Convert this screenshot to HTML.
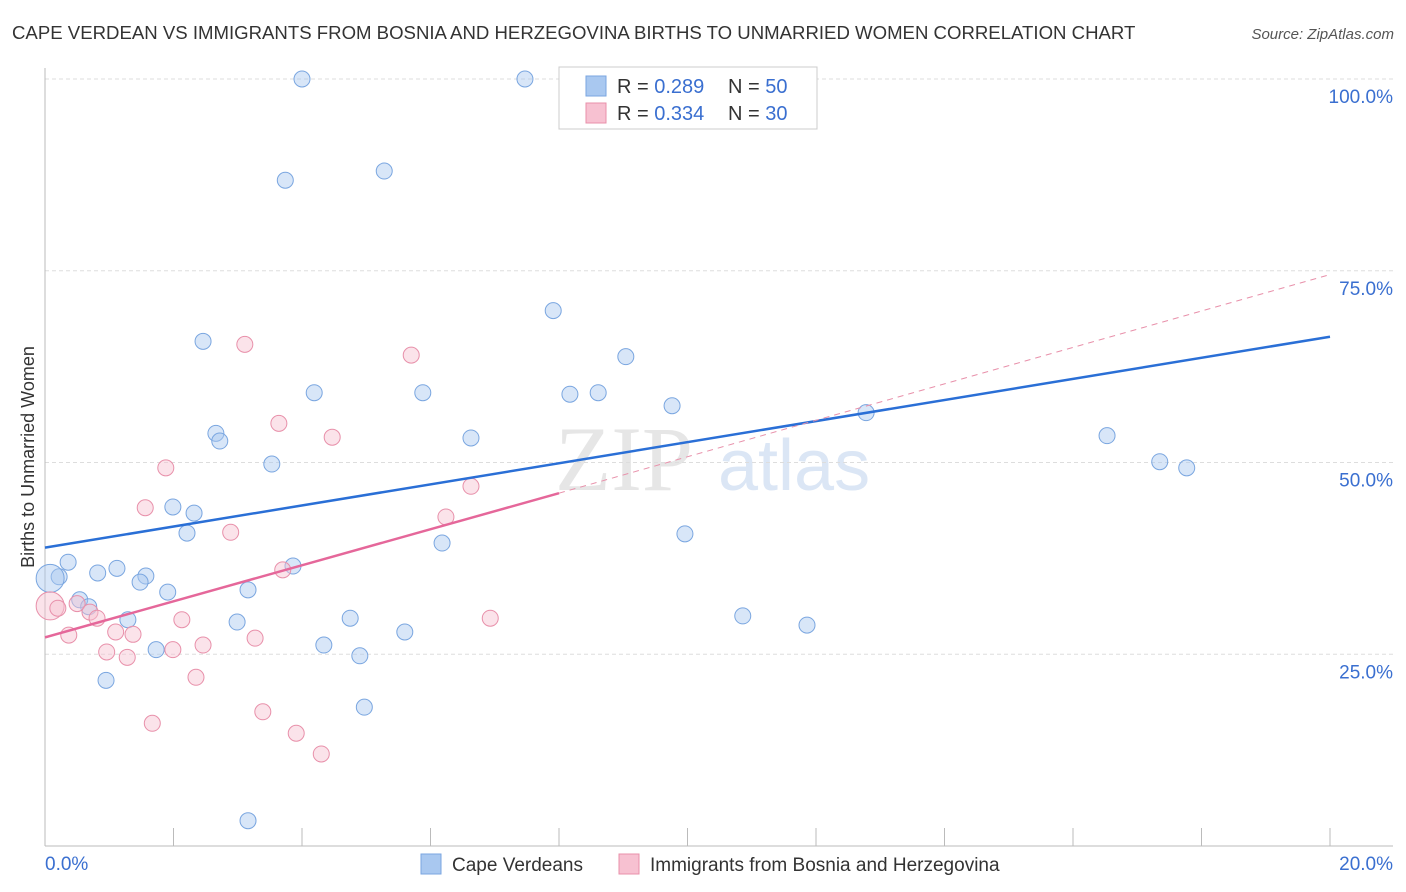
<!DOCTYPE html>
<html><head><meta charset="utf-8"><style>
body{margin:0;background:#fff;font-family:"Liberation Sans",sans-serif;}
svg{display:block}
</style></head><body>
<svg id="chart" width="1406" height="892">
<text x="12" y="39" font-size="18.6" fill="#333">CAPE VERDEAN VS IMMIGRANTS FROM BOSNIA AND HERZEGOVINA BIRTHS TO UNMARRIED WOMEN CORRELATION CHART</text>
<text x="1394" y="39" font-size="15" fill="#555" font-style="italic" text-anchor="end">Source: ZipAtlas.com</text>
<text transform="translate(34,457) rotate(-90)" font-size="18" fill="#333" text-anchor="middle">Births to Unmarried Women</text>
<g><text x="555" y="490" font-size="92" fill="#e6e6e6" font-family="Liberation Serif,serif">ZIP</text><text x="718" y="490" font-size="72" fill="#dbe6f5">atlas</text></g>
<g id="grid"></g><g id="marks"></g>
<g>
<rect x="559" y="67" width="258" height="62" fill="#fff" stroke="#ccc"/>
<rect x="586" y="76" width="20" height="20" fill="#a9c8f0" stroke="#7aa6e0"/>
<rect x="586" y="103" width="20" height="20" fill="#f7c1d1" stroke="#e890aa"/>
<text x="617" y="93" font-size="20" fill="#333">R = <tspan fill="#3a6fd0">0.289</tspan></text>
<text x="728" y="93" font-size="20" fill="#333">N = <tspan fill="#3a6fd0">50</tspan></text>
<text x="617" y="120" font-size="20" fill="#333">R = <tspan fill="#3a6fd0">0.334</tspan></text>
<text x="728" y="120" font-size="20" fill="#333">N = <tspan fill="#3a6fd0">30</tspan></text>
</g>
<g>
<rect x="421" y="854" width="20" height="20" fill="#a9c8f0" stroke="#7aa6e0"/>
<text x="452" y="871" font-size="19" fill="#333">Cape Verdeans</text>
<rect x="619" y="854" width="20" height="20" fill="#f7c1d1" stroke="#e890aa"/>
<text x="650" y="871" font-size="19" fill="#333">Immigrants from Bosnia and Herzegovina</text>
</g>
</svg>
<script>
const yTicks=[25,50,75,100];
const yTickLabels=["25.0%","50.0%","75.0%","100.0%"];
const xTicks=[0,2,4,6,8,10,12,14,16,18,20];
const blueX=[4.00,7.47,8.98,3.74,5.28,7.91,2.46,9.04,4.19,5.88,8.17,8.61,9.76,12.78,2.66,2.72,6.63,3.53,16.53,17.35,17.77,1.99,2.32,2.21,9.96,6.18,0.36,0.82,1.12,1.57,0.22,1.48,1.91,3.16,3.86,0.54,0.68,1.29,2.99,4.75,10.86,11.86,5.60,4.34,1.73,4.90,0.95,4.97,3.16,0.08];
const blueY=[100,100,100,86.8,88.0,69.8,65.8,63.8,59.1,59.1,58.9,59.1,57.4,56.5,53.8,52.8,53.2,49.8,53.5,50.1,49.3,44.2,43.4,40.8,40.7,39.5,37.0,35.6,36.2,35.2,35.1,34.4,33.1,33.4,36.5,32.1,31.2,29.5,29.2,29.7,30.0,28.8,27.9,26.2,25.6,24.8,21.6,18.1,3.3,34.9];
const pinkX=[3.11,5.70,3.64,4.47,1.88,6.63,1.56,6.24,2.89,3.70,0.08,0.20,0.50,0.70,0.81,2.13,6.93,0.37,1.10,1.37,3.27,2.46,1.99,0.96,1.28,2.35,3.39,1.67,3.91,4.30];
const pinkY=[65.4,64.0,55.1,53.3,49.3,46.9,44.1,42.9,40.9,36.0,31.3,31.0,31.6,30.5,29.7,29.5,29.7,27.5,27.9,27.6,27.1,26.2,25.6,25.3,24.6,22.0,17.5,16.0,14.7,12.0];
const blueTrend=[38.9,66.4];
const pinkTrend=[27.2,46.0,74.5];
const NS="http://www.w3.org/2000/svg";
const X=v=>45+v*1285/20, Y=v=>846-v*767/100;
function mk(t,a,p){const e=document.createElementNS(NS,t);for(const k in a)e.setAttribute(k,a[k]);p.appendChild(e);return e;}
const g=document.getElementById('grid'),m=document.getElementById('marks');
yTicks.forEach((t,i)=>{
 const l=mk('line',{x1:45,x2:1393,y1:Y(t),y2:Y(t),stroke:'#ddd','stroke-dasharray':'4,3'},g);
 
 
 const tx=mk('text',{x:1393,y:Y(t)+24,'font-size':19,fill:'#3a6fd0','text-anchor':'end'},g);
 tx.textContent=yTickLabels[i];
 
 
});
const ax=mk('line',{x1:45,x2:45,y1:68,y2:846,stroke:'#bbb'},g);


const bx=mk('line',{x1:45,x2:1393,y1:846,y2:846,stroke:'#bbb'},g);


xTicks.forEach(t=>{const l=mk('line',{x1:X(t),x2:X(t),y1:828,y2:846,stroke:'#bbb'},g);
 
 });
const xl0=mk('text',{x:45,y:870,'font-size':19,fill:'#3a6fd0'},g);xl0.textContent='0.0%';


const xl1=mk('text',{x:1393,y:870,'font-size':19,fill:'#3a6fd0','text-anchor':'end'},g);xl1.textContent='20.0%';


blueX.forEach((x,i)=>{const c=mk('circle',{cx:X(x),cy:Y(blueY[i]),r:i==blueX.length-1?14:8,fill:'rgba(169,200,240,0.45)',stroke:'#7aa6e0','stroke-width':1},m);
 
 });
pinkX.forEach((x,i)=>{const c=mk('circle',{cx:X(x),cy:Y(pinkY[i]),r:i==10?14:8,fill:'rgba(247,193,209,0.45)',stroke:'#e890aa','stroke-width':1},m);
 
 });
const bt=mk('line',{x1:X(0),y1:Y(blueTrend[0]),x2:X(20),y2:Y(blueTrend[1]),stroke:'#2a6fd6','stroke-width':2.5},m);


const pd=mk('line',{x1:X(8),y1:Y(pinkTrend[1]),x2:X(20),y2:Y(pinkTrend[2]),stroke:'#e890aa','stroke-width':1,'stroke-dasharray':'6,5'},m);


const pt=mk('line',{x1:X(0),y1:Y(pinkTrend[0]),x2:X(8),y2:Y(pinkTrend[1]),stroke:'#e5679a','stroke-width':2.5},m);


</script>
</body></html>
